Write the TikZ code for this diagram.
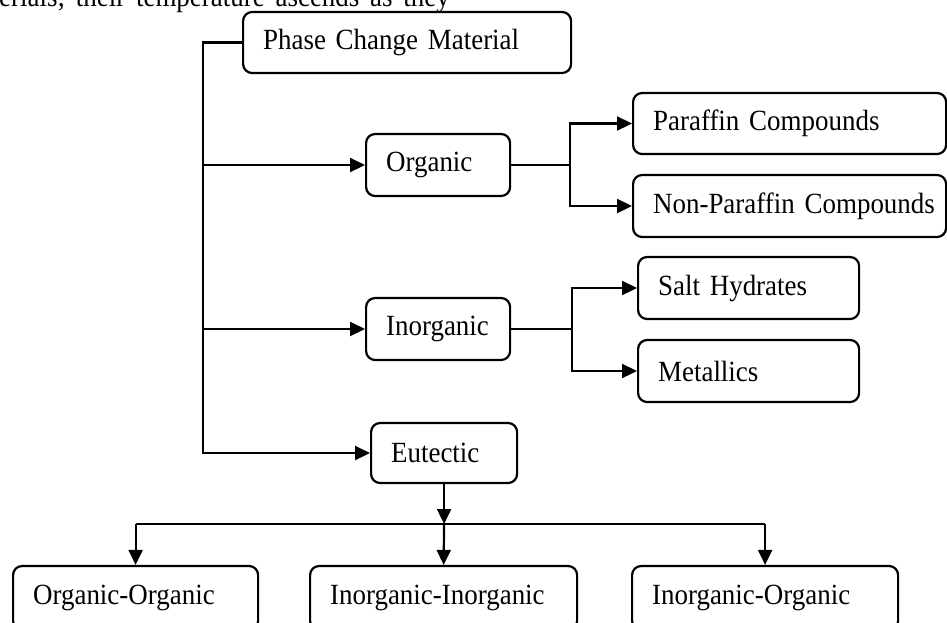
\documentclass[tikz,border=0pt]{standalone}
\usepackage{fontspec}
\setmainfont{Liberation Serif}[FakeStretch=0.92,WordSpace=0.8]
\usetikzlibrary{arrows.meta}
\newcommand\fsz{\fontsize{29.3}{34}\selectfont}
\newcommand\nb[1]{\makebox[0pt][l]{#1}}
\begin{document}
\begin{tikzpicture}[x=1pt,y=-1pt,
  bx/.style 2 args={draw, line width=2.2pt, rounded corners=9pt, minimum height=#2,
    text width=#1, align=left, inner xsep=20pt, inner ysep=0pt, font=\fsz, anchor=west},
  ln/.style={line width=2.2pt},
  arr/.style={line width=2.2pt, -{Triangle[length=15pt,width=14pt]}}]
\clip (0,0) rectangle (947,622);
\fill[white] (0,0) rectangle (947,622);
% clipped running text at top
\node (cap) [anchor=base west, inner sep=0pt, font=\fsz] at (-1,6) {erials;\ \ their\ \ temperature\ \ ascends\ \ as\ \ they};
% boxes
\node (pcm)  [bx={288pt}{61pt}] at (242,42.5) {\nb{Phase Change Material}};
\node (org)  [bx={104pt}{62pt}] at (365,165)  {\nb{Organic}};
\node (par)  [bx={273pt}{61pt}] at (632,123.5) {\nb{Paraffin Compounds}};
\node (npar) [bx={273pt}{62pt}] at (632,206)  {\nb{Non-Paraffin Compounds}};
\node (inorg)[bx={104pt}{62pt}] at (365,329)  {\nb{Inorganic}};
\node (salt) [bx={181pt}{62pt}] at (637,288)  {\nb{Salt Hydrates}};
\node (met)  [bx={181pt}{62pt}] at (637,371)  {\nb{Metallics}};
\node (eut)  [bx={106pt}{60pt}] at (370,453)  {\nb{Eutectic}};
\node (oo)   [bx={205pt}{64pt}] at (12,598)   {\nb{Organic-Organic}};
\node (ii)   [bx={227pt}{64pt}] at (309,598)  {\nb{Inorganic-Inorganic}};
\node (io)   [bx={226pt}{64pt}] at (631,598)  {\nb{Inorganic-Organic}};
% trunk
\coordinate (tx) at (203,0);
\draw[arr] (pcm.west) -| (tx |- eut.west) -- (eut.west);
\draw[arr] (tx |- org.west) -- (org.west);
\draw[arr] (tx |- inorg.west) -- (inorg.west);
% organic branch
\coordinate (b1) at (570,0);
\draw[ln] (org.east) -- (b1 |- org.east);
\draw[arr] (b1 |- org.east) |- (par.west);
\draw[arr] (b1 |- org.east) |- (npar.west);
% inorganic branch
\coordinate (b2) at (572,0);
\draw[ln] (inorg.east) -- (b2 |- inorg.east);
\draw[arr] (b2 |- inorg.east) |- (salt.west);
\draw[arr] (b2 |- inorg.east) |- (met.west);
% eutectic branch
\coordinate (hb) at (eut.south |- 0,524);
\draw[arr] (eut.south) -- (hb);
\draw[ln] (oo.north |- hb) -- (io.north |- hb);
\draw[arr] (hb) -- (ii.north);
\draw[arr] (oo.north |- hb) -- (oo.north);
\draw[arr] (io.north |- hb) -- (io.north);
\end{tikzpicture}
\end{document}
